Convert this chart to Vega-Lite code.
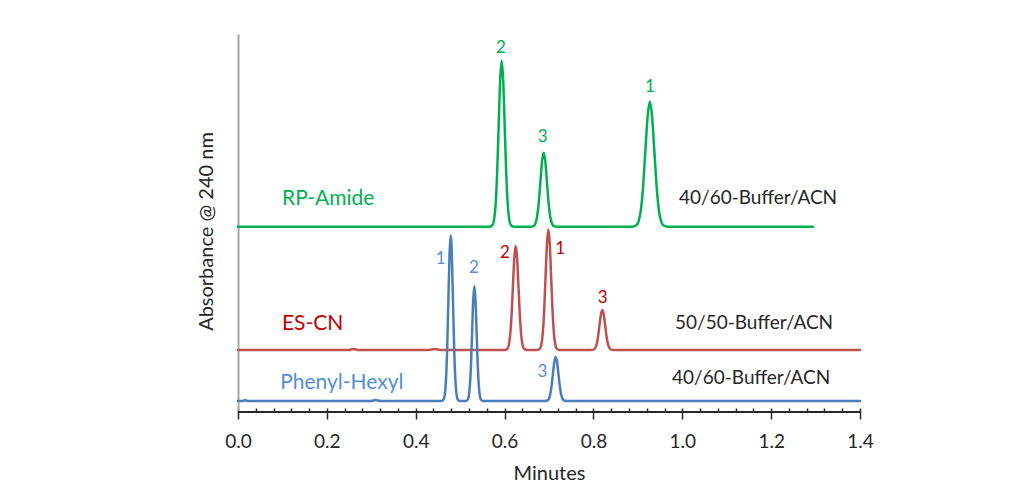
{
  "$schema": "https://vega.github.io/schema/vega-lite/v6.json",
  "width": 622,
  "height": 378,
  "autosize": {"type": "none"},
  "padding": {"left": 238, "top": 34, "right": 153, "bottom": 70},
  "background": "white",
  "config": {"view": {"stroke": null}, "font": "Lato"},
  "datasets": {
    "traces": [
      {"s":"RP-Amide","t":0,"a":185.3},{"s":"RP-Amide","t":0.15,"a":185.3},{"s":"RP-Amide","t":0.3,"a":185.3},{"s":"RP-Amide","t":0.45,"a":185.3},
      {"s":"RP-Amide","t":0.5663,"a":185.3},{"s":"RP-Amide","t":0.5731,"a":187.1},{"s":"RP-Amide","t":0.5765,"a":192.6},{"s":"RP-Amide","t":0.5799,"a":207.8},{"s":"RP-Amide","t":0.5833,"a":239.2},{"s":"RP-Amide","t":0.5867,"a":286.0},{"s":"RP-Amide","t":0.5901,"a":331.8},{"s":"RP-Amide","t":0.5935,"a":351.3},{"s":"RP-Amide","t":0.5969,"a":331.8},{"s":"RP-Amide","t":0.6003,"a":286.0},{"s":"RP-Amide","t":0.6037,"a":239.2},{"s":"RP-Amide","t":0.6071,"a":207.8},{"s":"RP-Amide","t":0.6105,"a":192.6},{"s":"RP-Amide","t":0.6139,"a":187.1},{"s":"RP-Amide","t":0.6207,"a":185.3},
      {"s":"RP-Amide","t":0.6584,"a":185.3},{"s":"RP-Amide","t":0.6658,"a":186.1},{"s":"RP-Amide","t":0.6695,"a":188.6},{"s":"RP-Amide","t":0.6732,"a":195.3},{"s":"RP-Amide","t":0.6769,"a":209.3},{"s":"RP-Amide","t":0.6806,"a":230.2},{"s":"RP-Amide","t":0.6843,"a":250.6},{"s":"RP-Amide","t":0.688,"a":259.3},{"s":"RP-Amide","t":0.6917,"a":250.6},{"s":"RP-Amide","t":0.6954,"a":230.2},{"s":"RP-Amide","t":0.6991,"a":209.3},{"s":"RP-Amide","t":0.7028,"a":195.3},{"s":"RP-Amide","t":0.7065,"a":188.6},{"s":"RP-Amide","t":0.7102,"a":186.1},{"s":"RP-Amide","t":0.7176,"a":185.3},
      {"s":"RP-Amide","t":0.8,"a":185.3},
      {"s":"RP-Amide","t":0.8866,"a":185.3},{"s":"RP-Amide","t":0.8967,"a":186.7},{"s":"RP-Amide","t":0.9018,"a":190.8},{"s":"RP-Amide","t":0.9068,"a":202.2},{"s":"RP-Amide","t":0.9119,"a":225.9},{"s":"RP-Amide","t":0.9169,"a":261.1},{"s":"RP-Amide","t":0.922,"a":295.6},{"s":"RP-Amide","t":0.927,"a":310.3},{"s":"RP-Amide","t":0.932,"a":295.6},{"s":"RP-Amide","t":0.9371,"a":261.1},{"s":"RP-Amide","t":0.9422,"a":225.9},{"s":"RP-Amide","t":0.9472,"a":202.2},{"s":"RP-Amide","t":0.9523,"a":190.8},{"s":"RP-Amide","t":0.9573,"a":186.7},{"s":"RP-Amide","t":0.9674,"a":185.3},
      {"s":"RP-Amide","t":1.1,"a":185.3},{"s":"RP-Amide","t":1.294,"a":185.3},

      {"s":"ES-CN","t":0,"a":62},{"s":"ES-CN","t":0.25,"a":62},{"s":"ES-CN","t":0.26,"a":62.9},{"s":"ES-CN","t":0.27,"a":62},{"s":"ES-CN","t":0.43,"a":62},{"s":"ES-CN","t":0.443,"a":62.9},{"s":"ES-CN","t":0.455,"a":62},
      {"s":"ES-CN","t":0.5998,"a":62},{"s":"ES-CN","t":0.6061,"a":63.2},{"s":"ES-CN","t":0.6093,"a":66.6},{"s":"ES-CN","t":0.6124,"a":76.1},{"s":"ES-CN","t":0.6156,"a":95.8},{"s":"ES-CN","t":0.6187,"a":125.1},{"s":"ES-CN","t":0.6219,"a":153.8},{"s":"ES-CN","t":0.625,"a":166},{"s":"ES-CN","t":0.6282,"a":153.8},{"s":"ES-CN","t":0.6313,"a":125.1},{"s":"ES-CN","t":0.6345,"a":95.8},{"s":"ES-CN","t":0.6376,"a":76.1},{"s":"ES-CN","t":0.6408,"a":66.6},{"s":"ES-CN","t":0.6439,"a":63.2},{"s":"ES-CN","t":0.6502,"a":62},
      {"s":"ES-CN","t":0.6733,"a":62},{"s":"ES-CN","t":0.6796,"a":63.3},{"s":"ES-CN","t":0.6828,"a":67.3},{"s":"ES-CN","t":0.6859,"a":78.3},{"s":"ES-CN","t":0.6891,"a":101.1},{"s":"ES-CN","t":0.6922,"a":135.1},{"s":"ES-CN","t":0.6954,"a":168.3},{"s":"ES-CN","t":0.6985,"a":182.5},{"s":"ES-CN","t":0.7017,"a":168.3},{"s":"ES-CN","t":0.7048,"a":135.1},{"s":"ES-CN","t":0.708,"a":101.1},{"s":"ES-CN","t":0.7111,"a":78.3},{"s":"ES-CN","t":0.7143,"a":67.3},{"s":"ES-CN","t":0.7174,"a":63.3},{"s":"ES-CN","t":0.7237,"a":62},
      {"s":"ES-CN","t":0.794,"a":62},{"s":"ES-CN","t":0.8005,"a":62.4},{"s":"ES-CN","t":0.8038,"a":63.8},{"s":"ES-CN","t":0.807,"a":67.4},{"s":"ES-CN","t":0.8103,"a":75},{"s":"ES-CN","t":0.8135,"a":86.3},{"s":"ES-CN","t":0.8168,"a":97.3},{"s":"ES-CN","t":0.82,"a":102},{"s":"ES-CN","t":0.8233,"a":97.3},{"s":"ES-CN","t":0.8265,"a":86.3},{"s":"ES-CN","t":0.8298,"a":75},{"s":"ES-CN","t":0.833,"a":67.4},{"s":"ES-CN","t":0.8363,"a":63.8},{"s":"ES-CN","t":0.8395,"a":62.4},{"s":"ES-CN","t":0.846,"a":62},
      {"s":"ES-CN","t":1.0,"a":62},{"s":"ES-CN","t":1.2,"a":62},{"s":"ES-CN","t":1.4,"a":62},

      {"s":"Phenyl-Hexyl","t":0,"a":11},{"s":"Phenyl-Hexyl","t":0.01,"a":11},{"s":"Phenyl-Hexyl","t":0.016,"a":11.9},{"s":"Phenyl-Hexyl","t":0.022,"a":11},{"s":"Phenyl-Hexyl","t":0.3,"a":11},{"s":"Phenyl-Hexyl","t":0.31,"a":11.9},{"s":"Phenyl-Hexyl","t":0.32,"a":11},
      {"s":"Phenyl-Hexyl","t":0.4579,"a":11},{"s":"Phenyl-Hexyl","t":0.4631,"a":12.8},{"s":"Phenyl-Hexyl","t":0.4657,"a":18.3},{"s":"Phenyl-Hexyl","t":0.4683,"a":33.4},{"s":"Phenyl-Hexyl","t":0.4709,"a":64.7},{"s":"Phenyl-Hexyl","t":0.4735,"a":111.4},{"s":"Phenyl-Hexyl","t":0.4761,"a":157.1},{"s":"Phenyl-Hexyl","t":0.4787,"a":176.5},{"s":"Phenyl-Hexyl","t":0.4813,"a":157.1},{"s":"Phenyl-Hexyl","t":0.4839,"a":111.4},{"s":"Phenyl-Hexyl","t":0.4865,"a":64.7},{"s":"Phenyl-Hexyl","t":0.4891,"a":33.4},{"s":"Phenyl-Hexyl","t":0.4917,"a":18.3},{"s":"Phenyl-Hexyl","t":0.4943,"a":12.8},{"s":"Phenyl-Hexyl","t":0.4995,"a":11},
      {"s":"Phenyl-Hexyl","t":0.512,"a":11},{"s":"Phenyl-Hexyl","t":0.517,"a":12.3},{"s":"Phenyl-Hexyl","t":0.5195,"a":16.1},{"s":"Phenyl-Hexyl","t":0.522,"a":26.6},{"s":"Phenyl-Hexyl","t":0.5245,"a":48.3},{"s":"Phenyl-Hexyl","t":0.527,"a":80.8},{"s":"Phenyl-Hexyl","t":0.5295,"a":112.5},{"s":"Phenyl-Hexyl","t":0.532,"a":126},{"s":"Phenyl-Hexyl","t":0.5345,"a":112.5},{"s":"Phenyl-Hexyl","t":0.537,"a":80.8},{"s":"Phenyl-Hexyl","t":0.5395,"a":48.3},{"s":"Phenyl-Hexyl","t":0.542,"a":26.6},{"s":"Phenyl-Hexyl","t":0.5445,"a":16.1},{"s":"Phenyl-Hexyl","t":0.547,"a":12.3},{"s":"Phenyl-Hexyl","t":0.552,"a":11},
      {"s":"Phenyl-Hexyl","t":0.6898,"a":11},{"s":"Phenyl-Hexyl","t":0.6961,"a":11.5},{"s":"Phenyl-Hexyl","t":0.6993,"a":12.9},{"s":"Phenyl-Hexyl","t":0.7024,"a":17},{"s":"Phenyl-Hexyl","t":0.7056,"a":25.3},{"s":"Phenyl-Hexyl","t":0.7087,"a":37.7},{"s":"Phenyl-Hexyl","t":0.7119,"a":49.8},{"s":"Phenyl-Hexyl","t":0.715,"a":55},{"s":"Phenyl-Hexyl","t":0.7182,"a":49.8},{"s":"Phenyl-Hexyl","t":0.7213,"a":37.7},{"s":"Phenyl-Hexyl","t":0.7245,"a":25.3},{"s":"Phenyl-Hexyl","t":0.7276,"a":17},{"s":"Phenyl-Hexyl","t":0.7308,"a":12.9},{"s":"Phenyl-Hexyl","t":0.7339,"a":11.5},{"s":"Phenyl-Hexyl","t":0.7402,"a":11},
      {"s":"Phenyl-Hexyl","t":0.9,"a":11},{"s":"Phenyl-Hexyl","t":1.1,"a":11},{"s":"Phenyl-Hexyl","t":1.4,"a":11}
    ],
    "names": [
      {"label":"RP-Amide","x":0.099,"y":213},
      {"label":"ES-CN","x":0.099,"y":88},
      {"label":"Phenyl-Hexyl","x":0.095,"y":29}
    ],
    "phases": [
      {"label":"40/60-Buffer/ACN","x":0.9926,"y":214},
      {"label":"50/50-Buffer/ACN","x":0.9836,"y":89},
      {"label":"40/60-Buffer/ACN","x":0.977,"y":34}
    ],
    "peaks": [
      {"s":"RP-Amide","peak":"2","x":0.592,"y":364},
      {"s":"RP-Amide","peak":"3","x":0.686,"y":274.7},
      {"s":"RP-Amide","peak":"1","x":0.927,"y":324.7},
      {"s":"ES-CN","peak":"2","x":0.601,"y":158.7},
      {"s":"ES-CN","peak":"1","x":0.725,"y":162.7},
      {"s":"ES-CN","peak":"3","x":0.821,"y":113.7},
      {"s":"Phenyl-Hexyl","peak":"1","x":0.456,"y":153},
      {"s":"Phenyl-Hexyl","peak":"2","x":0.531,"y":143.7},
      {"s":"Phenyl-Hexyl","peak":"3","x":0.685,"y":39.7}
    ]
  },
  "layer": [
    {
      "data": {"name": "traces"},
      "mark": {"type": "line", "interpolate": "monotone", "strokeWidth": 2.5, "strokeJoin": "round", "strokeCap": "round"},
      "encoding": {
        "x": {
          "field": "t", "type": "quantitative",
          "scale": {"domain": [0, 1.4], "nice": false, "zero": false},
          "axis": {
            "title": "Minutes", "offset": -4, "domain": false, "grid": false,
            "values": [0,0.04,0.08,0.12,0.16,0.2,0.24,0.28,0.32,0.36,0.4,0.44,0.48,0.52,0.56,0.6,0.64,0.68,0.72,0.76,0.8,0.84,0.88,0.92,0.96,1,1.04,1.08,1.12,1.16,1.2,1.24,1.28,1.32,1.36,1.4],
            "tickCount": 100,
            "tickSize": {"condition": {"test": "abs(datum.value*5 - round(datum.value*5)) < 0.001", "value": 11}, "value": 4},
            "tickColor": "#262626", "tickWidth": 1.5,
            "labelExpr": "abs(datum.value*5 - round(datum.value*5)) < 0.001 ? format(datum.value, '.1f') : ''",
            "labelFontSize": 19, "labelColor": "#262626", "labelFont": "Lato", "labelPadding": 13,
            "labelOverlap": false, "labelFlush": false, "labelBound": false,
            "titleFontSize": 20, "titleFontWeight": "normal", "titleColor": "#262626", "titleFont": "Lato", "titlePadding": 12
          }
        },
        "y": {
          "field": "a", "type": "quantitative",
          "scale": {"domain": [0, 378], "nice": false},
          "axis": {
            "title": "Absorbance @ 240 nm", "labels": false, "ticks": false, "grid": false, "domain": true,
            "domainColor": "#A6A6A6", "domainWidth": 2,
            "titleFontSize": 20, "titleFontWeight": "normal", "titleColor": "#262626", "titleFont": "Lato",
            "titlePadding": 22, "titleY": 197
          }
        },
        "color": {
          "field": "s", "type": "nominal",
          "scale": {"domain": ["RP-Amide", "ES-CN", "Phenyl-Hexyl"], "range": ["#00B050", "#C0504D", "#4A7EBB"]},
          "legend": null
        }
      }
    },
    {
      "data": {"values": [{}]},
      "mark": {"type": "rule", "color": "#262626", "strokeWidth": 2},
      "encoding": {"y": {"datum": 0, "type": "quantitative"}}
    },
    {
      "data": {"name": "names"},
      "mark": {"type": "text", "align": "left", "baseline": "middle", "fontSize": 21, "font": "Lato"},
      "encoding": {
        "x": {"field": "x", "type": "quantitative"},
        "y": {"field": "y", "type": "quantitative"},
        "text": {"field": "label"},
        "color": {
          "field": "label", "type": "nominal",
          "scale": {"domain": ["RP-Amide", "ES-CN", "Phenyl-Hexyl"], "range": ["#00B050", "#C00000", "#558ED5"]},
          "legend": null
        }
      }
    },
    {
      "data": {"name": "peaks"},
      "mark": {"type": "text", "align": "center", "baseline": "middle", "fontSize": 17, "font": "Lato"},
      "encoding": {
        "x": {"field": "x", "type": "quantitative"},
        "y": {"field": "y", "type": "quantitative"},
        "text": {"field": "peak"},
        "color": {
          "field": "s", "type": "nominal",
          "scale": {"domain": ["RP-Amide", "ES-CN", "Phenyl-Hexyl"], "range": ["#00B050", "#C00000", "#558ED5"]},
          "legend": null
        }
      }
    },
    {
      "data": {"name": "phases"},
      "mark": {"type": "text", "align": "left", "baseline": "middle", "fontSize": 19, "font": "Lato", "color": "#262626"},
      "encoding": {
        "x": {"field": "x", "type": "quantitative"},
        "y": {"field": "y", "type": "quantitative"},
        "text": {"field": "label"}
      }
    }
  ],
  "resolve": {"scale": {"color": "independent"}}
}
